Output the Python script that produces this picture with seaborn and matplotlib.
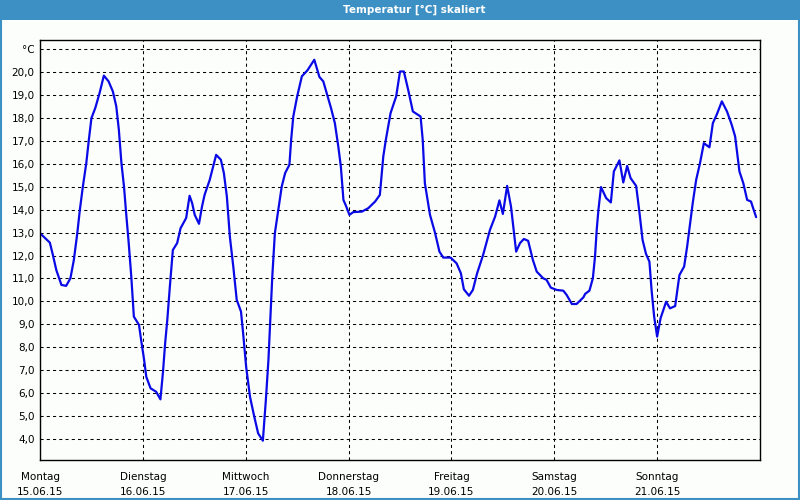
import matplotlib
matplotlib.use("Agg")
import matplotlib.pyplot as plt
import seaborn as sns
import pandas as pd
from matplotlib.patches import Rectangle

# ---- data ----
hours = [0.0, 2.3, 3.0, 3.8, 5.0, 6.1, 7.1, 7.9, 8.7, 9.3, 10.0, 10.8, 11.4, 12.0, 12.9,
         13.9, 14.9, 16.0, 17.0, 17.8, 18.4, 19.0, 19.6, 20.1, 20.7, 21.3, 21.9, 23.1,
         23.6, 24.3, 24.8, 25.8, 27.1, 28.1, 28.7, 29.2, 29.7, 30.3, 31.0, 32.0, 32.8,
         34.1, 34.9, 35.5, 36.1, 37.1, 37.8, 38.4, 39.6, 41.1, 42.2, 42.9, 43.6, 44.3,
         45.1, 45.9, 46.9, 47.4, 48.1, 49.0, 50.0, 50.9, 52.0, 52.7, 53.3, 53.8, 54.2,
         54.8, 55.6, 56.4, 57.2, 58.2, 58.6, 59.1, 60.0, 61.1, 62.4, 64.0, 65.2, 66.1,
         66.9, 67.9, 68.8, 69.6, 70.2, 70.8, 71.4, 72.2, 73.1, 75.1, 76.6, 78.2, 79.3,
         80.1, 80.7, 81.8, 83.1, 84.0, 84.9, 85.9, 87.0, 88.8, 89.3, 89.8, 91.0, 92.2,
         93.2, 94.1, 95.8, 97.2, 98.2, 98.9, 100.1, 101.0, 102.0, 103.4, 105.0, 106.2,
         107.2, 108.0, 109.0, 109.9, 111.1, 112.0, 112.9, 113.9, 115.0, 115.9, 117.4,
         118.2, 119.2, 120.6, 122.1, 122.9, 124.1, 125.2, 126.8, 127.2, 128.2, 129.0,
         129.5, 129.9, 130.3, 130.9, 132.1, 133.2, 133.9, 135.2, 136.1, 137.0, 137.8,
         139.1, 139.8, 140.6, 141.4, 142.2, 142.7, 143.3, 144.0, 144.8, 146.1, 147.0,
         148.2, 149.2, 150.3, 151.0, 151.7, 152.3, 153.1, 154.0, 154.9, 156.2, 157.0,
         157.9, 159.1, 160.3, 161.4, 162.2, 163.2, 164.1, 165.0, 165.9, 166.4, 167.1]
temps = [12.97, 12.56, 12.03, 11.37, 10.72, 10.68, 11.01, 11.81, 12.97, 13.99, 15.0, 16.02,
         17.04, 17.98, 18.42, 19.07, 19.83, 19.58, 19.14, 18.49, 17.47, 16.02, 15.0, 13.84,
         12.54, 11.08, 9.34, 8.98, 8.32, 7.45, 6.72, 6.22, 6.07, 5.74, 6.94, 8.18, 9.19,
         10.65, 12.24, 12.54, 13.19, 13.63, 14.6, 14.28, 13.77, 13.38, 14.13, 14.64, 15.29,
         16.38, 16.17, 15.59, 14.57, 12.82, 11.52, 10.07, 9.56, 8.61, 7.16, 5.85, 4.98,
         4.26, 3.94, 5.71, 7.45, 9.49, 11.08, 12.97, 13.99, 15.0, 15.59, 15.95, 17.04,
         18.05, 18.92, 19.8, 20.06, 20.52, 19.77, 19.58, 19.07, 18.42, 17.76, 16.75, 15.87,
         14.42, 14.16, 13.77, 13.89, 13.91, 14.06, 14.35, 14.64, 16.31, 17.04, 18.2, 18.92,
         20.01, 20.01, 19.22, 18.27, 18.05, 17.04, 15.15, 13.77, 12.97, 12.17, 11.91, 11.91,
         11.66, 11.23, 10.53, 10.25, 10.5, 11.23, 12.03, 13.12, 13.7, 14.4, 13.81, 15.03,
         14.13, 12.17, 12.54, 12.72, 12.64, 11.81, 11.3, 11.01, 10.94, 10.6, 10.5, 10.47,
         10.28, 9.89, 9.89, 10.18, 10.33, 10.47, 11.01, 11.95, 13.12, 13.99, 14.98, 14.5,
         14.31, 15.66, 16.14, 15.18, 15.9, 15.37, 15.03, 13.99, 12.68, 12.07, 11.73, 10.5,
         9.34, 8.47, 9.27, 9.99, 9.7, 9.8, 11.15, 11.52, 12.39, 13.41, 14.28, 15.29, 16.02,
         16.89, 16.71, 17.76, 18.13, 18.71, 18.27, 17.69, 17.18, 15.66, 15.15, 14.42, 14.35,
         14.06, 13.67]

day_names = ["Montag", "Dienstag", "Mittwoch", "Donnerstag", "Freitag", "Samstag", "Sonntag"]
day_dates = ["15.06.15", "16.06.15", "17.06.15", "18.06.15", "19.06.15", "20.06.15", "21.06.15"]
y_ticks = list(range(4, 22))
y_labels = [f"{v},0" for v in range(4, 21)] + ["°C"]
title = "Temperatur [°C] skaliert"

df = pd.DataFrame({"h": hours, "t": temps})

sns.set_style("white")
plt.rcParams["font.family"] = ["DejaVu Sans"]

fig = plt.figure(figsize=(8, 5), dpi=100)
fig.patch.set_facecolor("#fcfefc")
ax = fig.add_axes([0.05, 0.08, 0.90, 0.84])
ax.set_facecolor("#fcfefc")

sns.lineplot(data=df, x="h", y="t", ax=ax, color="#0a0ae6", linewidth=1.6,
             estimator=None, sort=False)

ax.set_xlim(0, 168)
ax.set_ylim(3.1, 21.38)
ax.set_xticks([24 * i for i in range(7)])
ax.set_xticklabels([f"{n}\n{d}" for n, d in zip(day_names, day_dates)],
                   fontsize=7.5, linespacing=1.6)
ax.set_yticks(y_ticks)
ax.set_yticklabels(y_labels, fontsize=7.5)
ax.tick_params(axis="both", length=0, colors="black")
ax.tick_params(axis="x", pad=9)
ax.tick_params(axis="y", pad=4)
ax.set_xlabel("")
ax.set_ylabel("")
ax.grid(True, color="black", linestyle=(0, (3, 3)), linewidth=0.75)
for s in ax.spines.values():
    s.set_visible(True)
    s.set_color("black")
    s.set_linewidth(1.0)

# title bar and border
fig.patches.append(Rectangle((0, 0.96), 1, 0.04, transform=fig.transFigure,
                             facecolor="#3d90c4", edgecolor="none", zorder=0))
fig.patches.append(Rectangle((0.001, 0.002), 0.998, 0.996, transform=fig.transFigure,
                             facecolor="none", edgecolor="#3d90c4", linewidth=1.5, zorder=5))
fig.text(0.518, 0.98, title, color="white", fontsize=7.5, fontweight="bold",
         ha="center", va="center")

fig.savefig("out.png", dpi=100, facecolor=fig.get_facecolor())
